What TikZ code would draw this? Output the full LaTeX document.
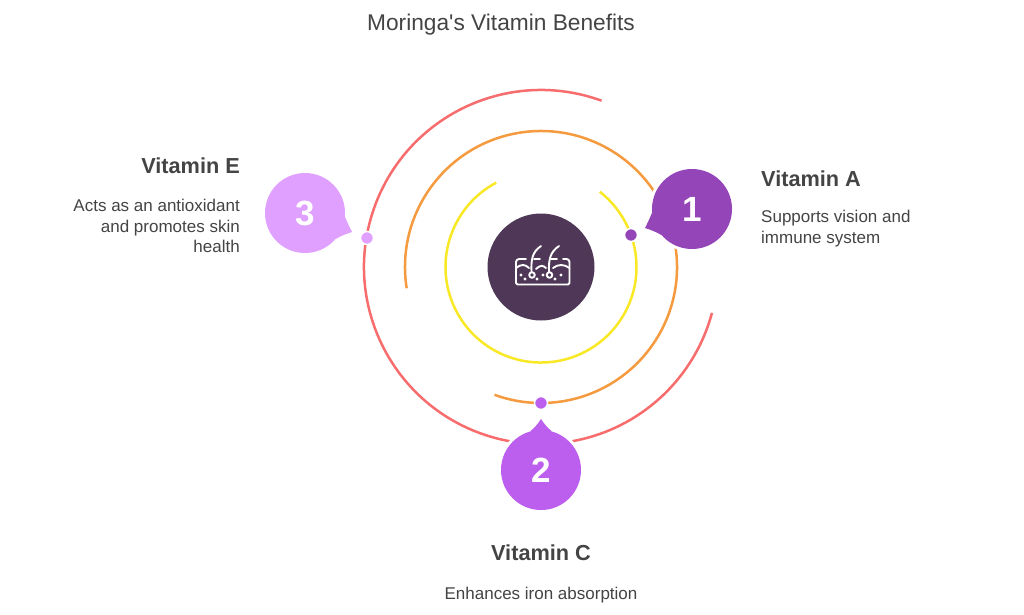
\documentclass[tikz,border=0pt]{standalone}
\usepackage{fontspec}
\setmainfont{Liberation Sans}
\usetikzlibrary{calc}
\definecolor{hubcol}{HTML}{4F3857}
\definecolor{ringred}{HTML}{F76D6D}
\definecolor{ringorange}{HTML}{F59A3E}
\definecolor{ringyellow}{HTML}{F9E825}
\definecolor{colA}{HTML}{9446B8}
\definecolor{colC}{HTML}{BD5FEE}
\definecolor{colE}{HTML}{E0A0FF}
\definecolor{txt}{HTML}{444444}
\tikzset{
  ring/.style={line width=2.5pt},
  bubble/.style={circle,minimum size=80pt,text=white,font=\fontsize{35}{35}\selectfont\bfseries},
  halo/.style={circle,fill=white,minimum size=86pt},
  tailhalo/.style={draw=white,fill=white,line width=3pt},
  dot/.style={circle,minimum size=13pt,draw=white,line width=1.5pt},
  head/.style={text=txt,font=\fontsize{21.7}{26}\selectfont\bfseries},
  body/.style={text=txt,font=\fontsize{17}{20.6}\selectfont},
}
\begin{document}
\begin{tikzpicture}[x=1pt,y=1pt]
\tikzstyle{every node}+=[inner sep=0pt]
\useasboundingbox (0,0) rectangle (1024,-614);
\fill [white] (0,0) rectangle (1024,-614);
\node [text=txt,font=\fontsize{22.7}{26}\selectfont,anchor=base] (title) at (501,-30) {Moringa\textquotesingle s Vitamin Benefits};
\node [circle,fill=hubcol,minimum size=107pt] (hub) at (541,-267) {};
% rings
\draw [ring,ringyellow] ($(hub)+(118:95.5pt)$) arc (118:412:95.5pt);
\draw [ring,ringorange] ($(hub)+(189:136pt)$) arc (189:-110:136pt);
\draw [ring,ringred] ($(hub)+(70:177pt)$) arc (70:345:177pt);
% skin icon
\begin{scope}[white,line width=1.9pt,line cap=round,line join=round]
\draw (516,-262) -- (516,-283) arc (180:270:1.5) -- (568,-284.5) arc (270:360:1.5) -- (569.5,-262);
\draw (516,-262) arc (180:90:3) -- (526,-259);
\draw (534,-259) -- (540,-259);
\draw (551,-259) -- (557,-259);
\draw (563,-259) -- (566.5,-259) arc (90:0:3);
\draw (516,-268) .. controls (521,-264) and (525,-264) .. (529,-268);
\draw (536,-269) .. controls (540,-265) and (543,-265) .. (546,-268);
\draw (553,-268) .. controls (558,-264) and (564,-264) .. (569.5,-268);
\draw (531.5,-272) .. controls (531,-260) and (532,-252) .. (541,-246);
\draw (549,-272) .. controls (548.5,-260) and (550,-252) .. (559,-246);
\draw (532,-275) circle (2.8);
\draw (549.5,-275) circle (2.8);
\foreach \px/\py in {521/-275,525/-279,537/-279,543/-275,555/-279,561/-275}
  \fill (\px,\py) circle (1.6);
\end{scope}
% bubble 1
\coordinate (tipA) at (645,-228);
\coordinate (bubA) at (692,-209);
\fill [tailhalo] ($(bubA)+(185:40pt)$) to[bend left=2] (tipA) to[bend left=6] ($(bubA)+(221:40pt)$) -- cycle;
\node [halo] (haloA) at (bubA) {};
\fill [colA] ($(bubA)+(185:40pt)$) to[bend left=2] (tipA) to[bend left=6] ($(bubA)+(221:40pt)$) -- cycle;
\node [bubble,fill=colA] (numA) at (bubA) {1};
\node [dot,fill=colA] (dotA) at (631,-235) {};
% bubble 2
\coordinate (tipC) at (541,-419);
\coordinate (bubC) at (541,-470);
\fill [tailhalo] ($(bubC)+(74:40pt)$) to[bend left=8] (tipC) to[bend left=8] ($(bubC)+(106:40pt)$) -- cycle;
\node [halo] (haloC) at (bubC) {};
\fill [colC] ($(bubC)+(74:40pt)$) to[bend left=8] (tipC) to[bend left=8] ($(bubC)+(106:40pt)$) -- cycle;
\node [bubble,fill=colC] (numC) at (bubC) {2};
\node [dot,fill=colC] (dotC) at (541,-403) {};
% bubble 3
\coordinate (tipE) at (352,-232);
\coordinate (bubE) at (305,-213);
\fill [tailhalo] ($(bubE)+(-41:40pt)$) to[bend left=6] (tipE) to[bend left=2] ($(bubE)+(-5:40pt)$) -- cycle;
\node [halo] (haloE) at (bubE) {};
\fill [colE] ($(bubE)+(-41:40pt)$) to[bend left=6] (tipE) to[bend left=2] ($(bubE)+(-5:40pt)$) -- cycle;
\node [bubble,fill=colE] (numE) at (bubE) {3};
\node [dot,fill=colE] (dotE) at (367,-238) {};
% labels
\node [head,anchor=base west] (headA) at (761,-186) {Vitamin A};
\node [body,anchor=north west,align=left] (bodyA) at (761,-210) {Supports vision and\\immune system};
\node [head,anchor=base] (headC) at (541,-560) {Vitamin C};
\node [body,anchor=base] (bodyC) at (541,-599) {Enhances iron absorption};
\node [head,anchor=base east] (headE) at (240,-173) {Vitamin E};
\node [body,anchor=north east,align=right] (bodyE) at (240,-199) {Acts as an antioxidant\\and promotes skin\\health};
\end{tikzpicture}
\end{document}
